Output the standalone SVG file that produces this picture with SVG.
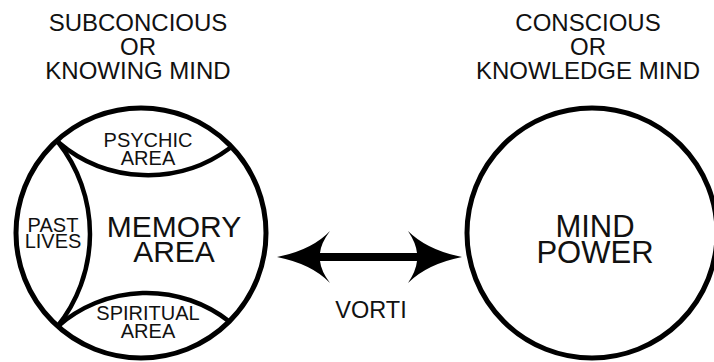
<svg xmlns="http://www.w3.org/2000/svg" width="714" height="362" viewBox="0 0 714 362">
<style>
.ring{fill:none;stroke:#000;stroke-width:5}
.arc{fill:none;stroke:#000;stroke-width:4.5}
text{font-family:"Liberation Sans",Arial,sans-serif;fill:#111;text-anchor:middle}
.t{font-size:24px}
.s{font-size:20px}
.b{font-size:30px}
.c{font-size:31px}
</style>
<rect width="714" height="362" fill="#fff"/>
<g id="title-left">
<text class="t" y="31"><tspan x="138">SUBCONCIOUS</tspan><tspan x="138" dy="24">OR</tspan><tspan x="138" dy="24">KNOWING MIND</tspan></text>
</g>
<g id="title-right">
<text class="t" y="31"><tspan x="588">CONSCIOUS</tspan><tspan x="588" dy="24">OR</tspan><tspan x="588" dy="24">KNOWLEDGE MIND</tspan></text>
</g>
<g id="subconscious-mind">
<circle class="ring" cx="141" cy="233" r="125"/>
<path class="arc" d="M58,142 A138,138 0 0 0 230,148"/>
<path class="arc" d="M57,327 A134.5,134.5 0 0 1 230,322"/>
<path class="arc" d="M58,142 A148,148 0 0 1 57,327"/>
</g>
<g id="psychic-area">
<text class="s" y="147"><tspan x="148">PSYCHIC</tspan><tspan x="148" dy="18">AREA</tspan></text>
</g>
<g id="past-lives">
<text class="s" y="232"><tspan x="53">PAST</tspan><tspan x="53" dy="16">LIVES</tspan></text>
</g>
<g id="memory-area">
<text class="b" y="237"><tspan x="174">MEMORY</tspan><tspan x="174" dy="25">AREA</tspan></text>
</g>
<g id="spiritual-area">
<text class="s" y="320"><tspan x="148">SPIRITUAL</tspan><tspan x="148" dy="18">AREA</tspan></text>
</g>
<g id="conscious-mind">
<circle class="ring" cx="592" cy="233" r="125"/>
<text class="c" y="237"><tspan x="595">MIND</tspan><tspan x="595" dy="26">POWER</tspan></text>
</g>
<g id="connectors">
<path id="vorti-arrow" fill="#000" d="M277,257 Q312,250 330,231 Q321,243 320,253 L417,253 Q416,243 408,231 Q427,250 462,257 Q427,264 408,283 Q416,271 417,261 L320,261 Q321,271 330,283 Q312,264 277,257 Z"/>
<text class="t" x="371" y="318" style="font-size:23.5px">VORTI</text>
</g>
</svg>
